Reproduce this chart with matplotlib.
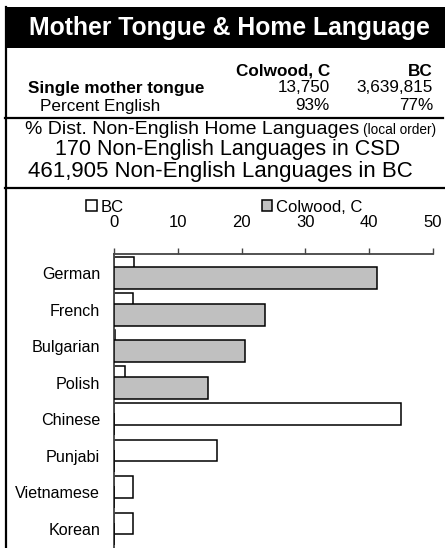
import matplotlib
matplotlib.use("Agg")
import matplotlib.pyplot as plt
from matplotlib.patches import Rectangle
from matplotlib.lines import Line2D
import numpy as np

plt.rcParams['font.family'] = ['Liberation Sans', 'DejaVu Sans']

categories = ["German", "French", "Bulgarian", "Polish", "Chinese", "Punjabi", "Vietnamese", "Korean"]
bc_values = [3.1, 3.0, 0.2, 1.8, 45.0, 16.1, 3.0, 2.9]
colwood_values = [41.3, 23.6, 20.6, 14.8, 0.0, 0.0, 0.0, 0.0]
xticks = [0, 10, 20, 30, 40, 50]
series_names = ["BC", "Colwood, C"]

title = "Mother Tongue & Home Language"
col_heads = ["Colwood, C", "BC"]
single_mt = ["13,750", "3,639,815"]
pct_english = ["93%", "77%"]
line_dist = "% Dist. Non-English Home Languages"
line_csd = "170 Non-English Languages in CSD"
line_bc = "461,905 Non-English Languages in BC"

W, H = 445, 548
fig = plt.figure(figsize=(W / 100, H / 100), dpi=100)
fig.patch.set_facecolor("white")

def fx(px):
    return px / W

def fy(py):
    return 1 - py / H

# Header box
fig.patches.append(Rectangle((fx(5), fy(48)), fx(445) - fx(5), fy(7) - fy(48),
                             transform=fig.transFigure, facecolor="black", edgecolor="none"))
fig.text(fx(229), fy(28), title, color="white", fontsize=17.8, fontweight="bold",
         ha="center", va="center")

# lines
fig.lines.append(Line2D([fx(6), fx(6)], [fy(7), fy(548)], transform=fig.transFigure,
                        color="black", lw=1.6))
fig.lines.append(Line2D([fx(5), fx(443)], [fy(118), fy(118)], transform=fig.transFigure,
                        color="black", lw=1.6))
fig.lines.append(Line2D([fx(5), fx(445)], [fy(188), fy(188)], transform=fig.transFigure,
                        color="black", lw=1.6))

# table
fs_t = 12.3
fig.text(fx(330), fy(71), col_heads[0], fontsize=fs_t, fontweight="bold", ha="right", va="center")
fig.text(fx(433), fy(71), col_heads[1], fontsize=fs_t, fontweight="bold", ha="right", va="center")
fig.text(fx(28), fy(88), "Single mother tongue", fontsize=fs_t, fontweight="bold", ha="left", va="center")
fig.text(fx(330), fy(88), single_mt[0], fontsize=fs_t, ha="right", va="center")
fig.text(fx(433), fy(88), single_mt[1], fontsize=fs_t, ha="right", va="center")
fig.text(fx(40), fy(106), "Percent English", fontsize=fs_t, ha="left", va="center")
fig.text(fx(330), fy(106), pct_english[0], fontsize=fs_t, ha="right", va="center")
fig.text(fx(433), fy(106), pct_english[1], fontsize=fs_t, ha="right", va="center")

t = fig.text(fx(25), fy(129), line_dist, fontsize=14, ha="left", va="center")
fig.canvas.draw()
bb = t.get_window_extent(renderer=fig.canvas.get_renderer())
fig.text(bb.x1 / W + fx(4), fy(130), "(local order)", fontsize=9.8, ha="left", va="center")
fig.text(fx(228), fy(149), line_csd, fontsize=15.5, ha="center", va="center")
fig.text(fx(220), fy(172), line_bc, fontsize=16, ha="center", va="center")

# chart
ax = fig.add_axes([fx(114), 0, fx(433) - fx(114), fy(254)])
y = np.arange(len(categories))
h = 0.6
off = 0.14
ax.barh(y - off, bc_values, height=h, color="white", edgecolor="black", linewidth=1.1,
        label=series_names[0], zorder=2)
ax.barh(y + off, colwood_values, height=h, color="#c0c0c0", edgecolor="black", linewidth=1.1,
        label=series_names[1], zorder=3)
ax.set_xlim(0, 50)
ax.set_ylim(7.53, -0.52)
ax.xaxis.tick_top()
ax.set_xticks(xticks)
ax.set_xticklabels([str(v) for v in xticks], fontsize=12)
ax.tick_params(axis="x", direction="out", length=4, width=1, color="#444444", pad=13)
ax.set_yticks(y)
ax.set_yticklabels(categories, fontsize=11.6)
ax.tick_params(axis="y", length=0, pad=10)
for s in ["right", "bottom"]:
    ax.spines[s].set_visible(False)
ax.spines["top"].set_color("#444444")
ax.spines["top"].set_linewidth(1.3)
ax.spines["left"].set_color("#444444")
ax.spines["left"].set_linewidth(1.3)

leg = fig.legend(loc="center left", bbox_to_anchor=(fx(86), fy(207)), ncol=2, frameon=False,
                 fontsize=12, handlelength=0.65, handleheight=0.65, handletextpad=0.2,
                 columnspacing=8.3, borderpad=0, borderaxespad=0)

fig.savefig("out.png", dpi=100)
